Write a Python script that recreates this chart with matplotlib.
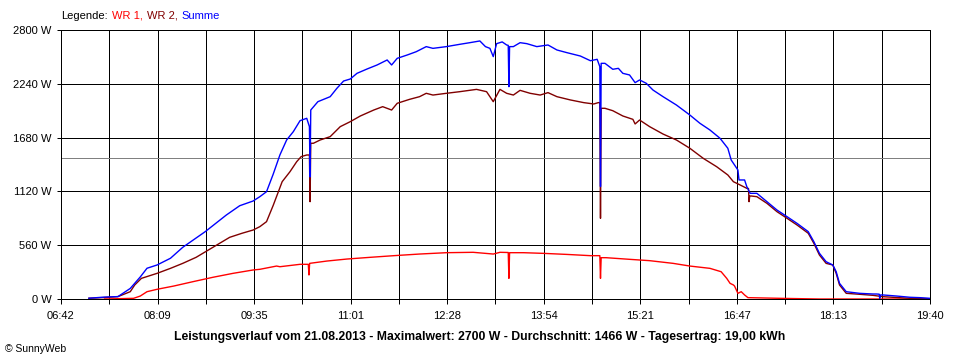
import numpy as np
import matplotlib
matplotlib.use('Agg')
import matplotlib.pyplot as plt
from matplotlib.offsetbox import TextArea, HPacker, AnchoredOffsetbox

plt.rcParams['font.family'] = ['Liberation Sans', 'DejaVu Sans']

# time in minutes since midnight, power in W
t_sum = [427, 441, 453, 464, 473, 479, 488, 500, 511, 531, 550, 562, 574, 580, 586, 592, 598,
         604, 610, 616, 622, 624.4, 625, 625.6, 632, 643, 649, 655, 661, 667, 676, 685, 694, 698,
         703, 712, 720, 729, 735, 747, 759, 768, 777, 782, 786, 789, 792, 797, 801, 802.4, 803,
         803.6, 807, 813, 819, 828, 838, 846, 855, 867, 876, 882, 884.4, 885, 885.6, 889, 896,
         901, 905, 911, 916, 920, 926, 932, 941, 953, 965, 974, 983, 992, 999, 1002, 1005, 1008,
         1009, 1014, 1016, 1019, 1025, 1034, 1043, 1052, 1061, 1071, 1076, 1081, 1087, 1093,
         1096, 1099, 1105, 1117, 1129, 1132, 1134.5, 1135, 1135.5, 1138, 1150, 1162, 1171, 1180]
p_sum = [8, 20, 25, 110, 230, 320, 354, 424, 538, 700, 874, 971, 1020, 1065, 1117, 1300, 1500,
         1655, 1742, 1856, 1881, 1794, 1270, 1967, 2054, 2106, 2193, 2269, 2290, 2349, 2394, 2436,
         2488, 2436, 2505, 2540, 2574, 2627, 2609, 2627, 2651, 2668, 2686, 2627, 2609, 2523, 2658,
         2676, 2644, 2640, 2210, 2627, 2627, 2668, 2658, 2627, 2644, 2592, 2564, 2529, 2480, 2495,
         2419, 1170, 2453, 2453, 2391, 2401, 2349, 2332, 2252, 2280, 2245, 2175, 2106, 2019, 1915,
         1829, 1759, 1673, 1569, 1447, 1395, 1343, 1239, 1239, 1169, 1100, 1100, 1013, 926, 857,
         787, 701, 597, 476, 388, 354, 284, 163, 76, 59, 52, 52, 50, 7, 42, 42, 31, 18, 14, 7]

t_wr2 = [427, 441, 453, 464, 468, 474, 488, 500, 511, 523, 538, 553, 564, 574, 580, 586, 592,
         600, 607, 613, 617, 622, 624.4, 625, 625.6, 628, 634, 643, 652, 661, 670, 682, 690, 698,
         703, 714, 723, 729, 735, 747, 759, 774, 783, 786, 789, 795, 801, 807, 813, 822, 831,
         838, 846, 858, 870, 879, 883, 884.4, 885, 885.6, 889, 896, 905, 914, 916, 920, 929, 941,
         953, 965, 977, 989, 999, 1004, 1010, 1016, 1017.5, 1018, 1018.6, 1020, 1025, 1034,
         1043, 1052, 1061, 1071, 1076, 1081, 1087, 1093, 1096, 1099, 1105, 1117, 1129, 1138,
         1162, 1180]
p_wr2 = [8, 15, 25, 76, 146, 215, 267, 319, 371, 434, 538, 642, 684, 718, 753, 805, 975,
         1221, 1325, 1429, 1482, 1499, 1499, 1013, 1621, 1621, 1655, 1690, 1794, 1846, 1905, 1967,
         2002, 1967, 2037, 2078, 2106, 2141, 2123, 2141, 2158, 2182, 2158, 2106, 2054, 2182, 2141,
         2123, 2172, 2141, 2123, 2148, 2106, 2072, 2044, 2030, 2044, 2044, 840, 1985, 1985, 1960,
         1905, 1870, 1822, 1863, 1794, 1717, 1655, 1569, 1464, 1377, 1291, 1221, 1187, 1152,
         1150, 1013, 1072, 1072, 1065, 996, 909, 840, 770, 684, 580, 458, 371, 354, 267, 146,
         59, 49, 38, 24, 7, 3]

t_wr1 = [441, 467, 473, 479, 488, 503, 520, 538, 556, 574, 580, 595, 598, 616, 623.4, 624,
         624.6, 640, 658, 679, 700, 723, 747, 771, 789, 795, 802.4, 803, 803.6, 816, 834, 855,
         876, 884.4, 885, 885.6, 890, 911, 929, 950, 965, 983, 993, 998, 1001, 1004, 1005, 1008,
         1011, 1014, 1017, 1046, 1081, 1180]
p_wr1 = [0, 7, 31, 76, 101, 135, 180, 226, 267, 302, 309, 343, 336, 361, 361, 250, 371, 395,
         416, 434, 451, 468, 482, 486, 468, 486, 484, 215, 482, 482, 475, 464, 451, 451, 215,
         430, 430, 413, 399, 371, 343, 319, 284, 215, 163, 146, 135, 59, 76, 42, 14, 7, 0, 0]

mean_power = 1466
x_start, x_end = 402, 1180
x_labels = ['06:42', '08:09', '09:35', '11:01', '12:28', '13:54', '15:21', '16:47', '18:13', '19:40']
y_ticks = [0, 560, 1120, 1680, 2240, 2800]

fig = plt.figure(figsize=(9.6, 3.6), dpi=100)
ax = fig.add_axes([61 / 960, 61 / 360, 869 / 960, 269 / 360])

x_grid = np.linspace(x_start, x_end, 19)
for xv in x_grid:
    ax.axvline(xv, color='black', lw=0.72, antialiased=False, zorder=1)
for yv in y_ticks:
    ax.axhline(yv, color='black', lw=0.72, antialiased=False, zorder=1)
ax.axhline(mean_power, color='#808080', lw=0.72, antialiased=False, zorder=1)

ax.plot(t_wr1, p_wr1, color='#ff0000', lw=1.0, zorder=3)
ax.plot(t_wr2, p_wr2, color='#800000', lw=1.0, zorder=4)
ax.plot(t_sum, p_sum, color='#0000ff', lw=1.0, zorder=5)

ax.set_xlim(x_start, x_end)
ax.set_ylim(0, 2800)
ax.set_xticks(x_grid)
ax.set_xticklabels([x_labels[i // 2] if i % 2 == 0 else '' for i in range(19)])
ax.set_yticks(y_ticks)
ax.set_yticklabels([f'{v} W' for v in y_ticks])
ax.tick_params(axis='x', length=3.6, width=0.72, pad=5, labelsize=8, color='black')
ax.tick_params(axis='y', length=3, width=0.72, pad=4, labelsize=8, color='black')
for s in ax.spines.values():
    s.set_color('black')
    s.set_linewidth(0.72)

parts = [TextArea('Legende:', textprops=dict(color='black', size=8)),
         TextArea('WR 1,', textprops=dict(color='#ff0000', size=8)),
         TextArea('WR 2,', textprops=dict(color='#800000', size=8)),
         TextArea('Summe', textprops=dict(color='#0000ff', size=8))]
box = HPacker(children=parts, align='baseline', pad=0, sep=3)
anch = AnchoredOffsetbox(loc='center left', child=box, pad=0, borderpad=0, frameon=False,
                         bbox_to_anchor=(61 / 960, 1 - 16 / 360), bbox_transform=fig.transFigure)
fig.add_artist(anch)

fig.text(0.5, 1 - 337 / 360,
         'Leistungsverlauf vom 21.08.2013 - Maximalwert: 2700 W - Durchschnitt: 1466 W - Tagesertrag: 19,00 kWh',
         ha='center', va='center', weight='bold', size=8.8)
fig.text(5 / 960, 1 - 349 / 360, '\u00a9 SunnyWeb', ha='left', va='center', size=7.5)

fig.savefig('out.png', dpi=100, facecolor='white')
